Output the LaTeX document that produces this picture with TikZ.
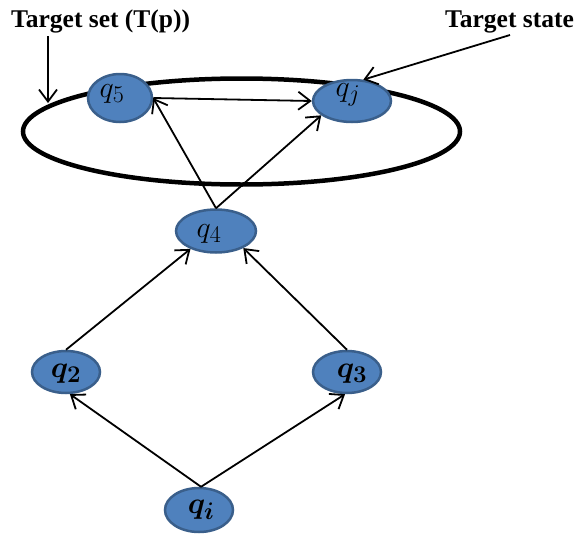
\RequirePackage{fix-cm}
\documentclass[tikz,border=0pt]{standalone}
\usepackage{bm}
\usepackage{fontspec}
\setmainfont{Liberation Serif}
\DeclareMathSizes{30}{30}{24}{18}
\usetikzlibrary{shapes.geometric,arrows.meta}
\definecolor{nodefill}{HTML}{4F81BD}
\definecolor{nodeedge}{HTML}{3A5F8B}
\tikzset{
  stnode/.style={ellipse, draw=nodeedge, fill=nodefill, line width=2.5pt, inner sep=0pt},
  stlabel/.style={font=\fontsize{30}{34}\selectfont},
  conn/.style={line width=1.8pt, -{Straight Barb[length=12pt,width=18pt,line width=1.8pt]}},
  heading/.style={font=\fontsize{25.5}{30}\selectfont\bfseries, inner sep=0pt, anchor=base west},
  bigset/.style={ellipse, draw=black, line width=4.5pt, inner sep=0pt}
}
\begin{document}
\begin{tikzpicture}[x=1pt,y=-1pt]
\useasboundingbox (0,0) rectangle (579,536);
% target set ellipse
\node[bigset, minimum width=437pt, minimum height=106pt] (T) at (241.5,131.5) {};
% states
\node[stnode, minimum width=64pt, minimum height=48pt,
  label={[stlabel,xshift=-8pt,yshift=4pt]center:$q_5$}] (q5) at (120,98) {};
\node[stnode, minimum width=78pt, minimum height=42pt,
  label={[stlabel,xshift=-4pt,yshift=6pt]center:$q_j$}] (qj) at (352,101) {};
\node[stnode, minimum width=80pt, minimum height=43pt,
  label={[stlabel,xshift=-7pt,yshift=-3pt]center:$q_4$}] (q4) at (216,231) {};
\node[stnode, minimum width=68pt, minimum height=42pt,
  label={[stlabel,xshift=0pt,yshift=-2pt]center:$\bm{q_2}$}] (q2) at (66,372) {};
\node[stnode, minimum width=68pt, minimum height=42pt,
  label={[stlabel,xshift=5pt,yshift=-2pt]center:$\bm{q_3}$}] (q3) at (347,372) {};
\node[stnode, minimum width=68pt, minimum height=44pt,
  label={[stlabel,xshift=2pt,yshift=0pt]center:$\bm{q_i}$}] (qi) at (199,510) {};
% headings
\node[heading] (tsl) at (11,27) {Target set (T(p))};
\node[heading] (tst) at (445,27) {Target state};
\coordinate (tsA) at (48,36);
\coordinate (tsB) at (48,103);
\coordinate (tsC) at (510,35);
% connectors
\draw[conn] (tsA) -- (tsB);
\draw[conn] (tsC) -- (qj.62);
\draw[conn] (q5.east) -- (qj.west);
\draw[conn] (q4.north) -- (q5.east);
\draw[conn] (q4.north) -- (qj.205);
\draw[conn] (q2.north) -- (q4.215);
\draw[conn] (q3.north) -- (q4.328);
\draw[conn] (qi.85) -- (q2.280);
\draw[conn] (qi.85) -- (q3.265);
\end{tikzpicture}
\end{document}
